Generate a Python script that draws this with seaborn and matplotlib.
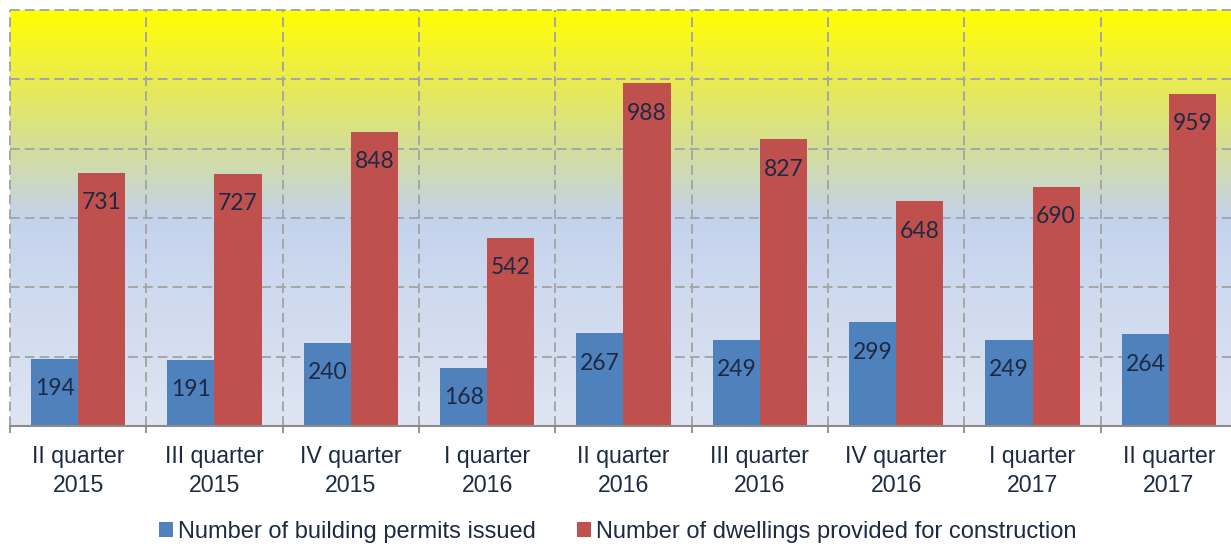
import numpy as np
import pandas as pd
import matplotlib.pyplot as plt
import seaborn as sns
from matplotlib.colors import LinearSegmentedColormap

# data
quarters = ["II quarter\n2015", "III quarter\n2015", "IV quarter\n2015",
            "I quarter\n2016", "II quarter\n2016", "III quarter\n2016",
            "IV quarter\n2016", "I quarter\n2017", "II quarter\n2017"]
permits = [194, 191, 240, 168, 267, 249, 299, 249, 264]
dwellings = [731, 727, 848, 542, 988, 827, 648, 690, 959]
series_names = ["Number of building permits issued",
                "Number of dwellings provided for construction"]

df = pd.DataFrame({"quarter": quarters,
                   series_names[0]: permits,
                   series_names[1]: dwellings})
df = df.melt(id_vars="quarter", var_name="series", value_name="value")

sns.set_theme(style="white")
plt.rcParams['font.family'] = ['Liberation Sans', 'DejaVu Sans']

text_col = '#1C2A44'
grid_col = '#A6A6A6'

fig = plt.figure(figsize=(12.31, 5.44), dpi=100)
ax = fig.add_axes([10 / 1231, 118 / 544, 1227 / 1231, 416 / 544])

# background gradient (yellow at top -> pale blue at bottom)
bg = LinearSegmentedColormap.from_list("bg", [
    (0.0, '#DFE5F2'),
    (0.5, '#C4D3EC'),
    (0.67, '#D4DE98'),
    (0.83, '#EAEB50'),
    (1.0, '#FFFF00'),
])
grad = np.linspace(1, 0, 256).reshape(-1, 1)
ax.imshow(grad, cmap=bg, extent=(0, 1, 0, 1), transform=ax.transAxes,
          aspect='auto', zorder=0, vmin=0, vmax=1)

sns.barplot(data=df, x="quarter", y="value", hue="series",
            palette=['#4F81BD', '#C0504D'], saturation=1,
            width=0.69, gap=0, linewidth=0, ax=ax, zorder=2)

ax.set_xlim(-0.5, 8.5)
ax.set_ylim(0, 1200)
ax.set_xlabel("")
ax.set_ylabel("")

# grid
ax.set_yticks(range(0, 1201, 200))
ax.set_yticklabels([])
ax.tick_params(axis='y', length=0)
ax.set_xticks(np.arange(-0.5, 9, 1), minor=True)
ax.yaxis.grid(True, ls=(0, (5, 2.6)), color=grid_col, lw=1.4)
ax.xaxis.grid(True, which='minor', ls=(0, (5, 2.6)), color=grid_col, lw=1.4)
ax.xaxis.grid(False, which='major')
ax.set_axisbelow(True)
gridlines = ax.get_ygridlines() + [t.gridline for t in ax.xaxis.get_minor_ticks()]
for line in gridlines:
    line.set_clip_on(False)
    line.set_zorder(1)

ax.tick_params(axis='x', which='major', length=0, pad=14,
               labelsize=16.7, labelcolor=text_col)
ax.tick_params(axis='x', which='minor', bottom=True, length=5,
               width=1.3, color='#8C8C8C', direction='out')
for lab in ax.get_xticklabels():
    lab.set_linespacing(1.3)

for side in ['top', 'left', 'right']:
    ax.spines[side].set_visible(False)
ax.spines['bottom'].set_color('#8C8C8C')
ax.spines['bottom'].set_linewidth(1.5)
ax.spines['bottom'].set_zorder(3)

# value labels inside the bars
for container in ax.containers:
    for bar in container:
        h = bar.get_height()
        ax.annotate(f"{int(h)}", (bar.get_x() + bar.get_width() / 2, h),
                    xytext=(0, -21.5), textcoords='offset points',
                    ha='center', va='center', fontsize=16.5,
                    family=['Lato', 'DejaVu Sans'], color=text_col, zorder=4)

handles, labels = ax.get_legend_handles_labels()
ax.get_legend().remove()
leg = fig.legend(handles, labels, loc='lower center', bbox_to_anchor=(0.502, -0.037),
                 ncol=2, frameon=False, handlelength=0.58, handleheight=0.58,
                 handletextpad=0.22, columnspacing=1.75, fontsize=17)
for t in leg.get_texts():
    t.set_color(text_col)

plt.savefig('out.png', dpi=100)
